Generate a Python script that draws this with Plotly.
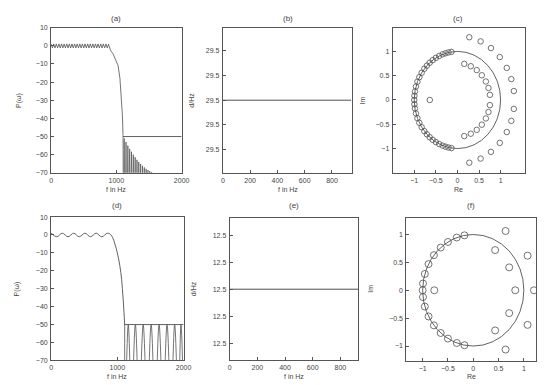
import numpy as np
import plotly.graph_objects as go

# ---------------- data ----------------
# (a) magnitude response, long filter
a_pb_f = [0, 20, 40, 60, 80, 100, 120, 140, 160, 180, 200, 220, 240, 260, 280, 300, 320, 340,
          360, 380, 400, 420, 440, 460, 480, 500, 520, 540, 560, 580, 600, 620, 640, 660, 680,
          700, 720, 740, 760, 780, 800, 820, 840, 860, 880,
          910, 950, 990, 1027, 1055, 1078, 1092, 1102]
a_pb_db = [1.0, -1.2, 1.0, -1.2, 1.0, -1.2, 1.0, -1.2, 1.0, -1.2, 1.0, -1.2, 1.0, -1.2, 1.0,
           -1.2, 1.0, -1.2, 1.0, -1.2, 1.0, -1.2, 1.0, -1.2, 1.0, -1.2, 1.0, -1.2, 1.0, -1.2,
           1.0, -1.2, 1.0, -1.2, 1.0, -1.2, 1.0, -1.2, 1.0, -1.2, 1.0, -1.2, 1.0, -1.2, 0.8,
           -2.5, -4.5, -7.5, -11, -18, -27.5, -38, -49]
a_sb_f = [1102, 1106, 1120, 1134, 1148, 1162, 1176, 1190, 1204, 1218, 1232, 1246, 1260, 1274,
          1288, 1302, 1316, 1330, 1344, 1358, 1372, 1386, 1400, 1414, 1428, 1442, 1456, 1470,
          1484, 1498, 1512, 1526, 1540, 1554, 1568, 1582, 1596, 2000]
a_sb_db = [-49, -95, -51, -95, -53, -95, -55, -95, -56.8, -95, -58.4, -95, -60, -95,
           -61.4, -95, -62.8, -95, -64, -95, -65.1, -95, -66.1, -95, -67, -95, -67.8, -95,
           -68.5, -95, -69.1, -95, -69.6, -95, -70.1, -95, -70.6, -100]
spec_f = [1100, 2000]
spec_db = [-50, -50]

# (d) magnitude response, short (equiripple) filter
d_pb_f = [0, 85, 170, 255, 340, 425, 510, 595, 680, 765, 850, 900, 930, 963, 1000, 1037,
          1065, 1086, 1100, 1111]
d_pb_db = [1.0, -1.0, 1.0, -1.0, 1.0, -1.0, 1.0, -1.0, 1.0, -1.0, 1.0, 0.2, -1.5, -5, -10,
           -17, -25, -35, -43, -50]
d_sb_f = [1111, 1118, 1165, 1215, 1272, 1330, 1390, 1450, 1510, 1570, 1630, 1690, 1750,
          1810, 1865, 1920, 1960, 2000]
d_sb_db = [-50, -95, -50, -95, -50, -95, -50, -95, -50, -95, -50, -95, -50, -95, -50, -95,
           -50, -95]

# (b), (e) group delay
gd_f = [0, 940]
gd_top = [29.5, 29.5]
gd_bot = [12.5, 12.5]

# (c) zeros, long filter (angles in degrees, radii)
c_circ_ang = [98, 102, 106, 110, 115, 120, 125, 130, 135, 140, 146, 152, 158, 164, 170, 175, 180,
              -175, -170, -164, -158, -152, -146, -140, -135, -130, -125, -120, -115, -110,
              -106, -102, -98]
c_ring_ang = [8, 19, 30, 42, 54, 66, 78, -8, -19, -30, -42, -54, -66, -78]
c_in_r = 0.76
c_out_r = 1.32
c_real_x = [-0.64, -1.56]

# (f) zeros, short filter
f_circ_ang = [100, 109, 120, 130, 141, 152, 163, 173, 180,
              -173, -163, -152, -141, -130, -120, -109, -100]
f_ring_ang = [59, 30, -30, -59]
f_in_r = [0.84, 0.82, 0.82, 0.84]
f_out_r = [1.24, 1.24, 1.24, 1.24]
f_real_x = [0.83, -0.77, 1.2]

# ---------------- figure ----------------
LC = '#505050'
FONT = dict(family='Liberation Sans, Arial, sans-serif', size=7, color='#444')
W, H = 544, 385

def px(x0, x1):
    return [x0 / W, min(x1 / W, 1.0)]

def py(top, bot):
    return [1 - bot / H, 1 - top / H]

dom = {
    1: (px(50, 183), py(24, 172)),
    2: (px(225, 357), py(24, 172)),
    3: (px(398, 533), py(24, 172)),
    4: (px(50, 185), py(217, 363)),
    5: (px(232, 363), py(218, 363)),
    6: (px(412, 544), py(218, 364)),
}

fig = go.Figure()

def ax(i):
    return ('x' if i == 1 else f'x{i}'), ('y' if i == 1 else f'y{i}')

def line(i, x, y, shape='linear', w=1.0):
    xa, ya = ax(i)
    fig.add_trace(go.Scatter(x=x, y=y, mode='lines', xaxis=xa, yaxis=ya,
                             line=dict(color=LC, width=w, shape=shape),
                             showlegend=False, hoverinfo='skip'))

def zeros(i, re, im, size=6):
    xa, ya = ax(i)
    fig.add_trace(go.Scatter(x=re, y=im, mode='markers', xaxis=xa, yaxis=ya,
                             marker=dict(symbol='circle-open', size=size,
                                         color=LC, line=dict(width=0.8, color=LC)),
                             showlegend=False, hoverinfo='skip'))

# (a)
line(1, a_pb_f, a_pb_db, w=0.8)
line(1, a_sb_f, a_sb_db, w=0.7)
line(1, spec_f, spec_db, w=0.9)
# (b)
line(2, gd_f, gd_top)
# (c)
ang = np.deg2rad(c_circ_ang)
zeros(3, np.cos(ang), np.sin(ang), size=5.5)
ang = np.deg2rad(c_ring_ang)
zeros(3, c_in_r * np.cos(ang), c_in_r * np.sin(ang), size=5.5)
zeros(3, c_out_r * np.cos(ang), c_out_r * np.sin(ang), size=5.5)
zeros(3, c_real_x, [0] * len(c_real_x), size=5.5)
# (d)
line(4, d_pb_f, d_pb_db, shape='spline', w=0.9)
line(4, d_sb_f, d_sb_db, shape='spline', w=0.8)
line(4, spec_f, spec_db, w=0.9)
# (e)
line(5, gd_f, gd_bot)
# (f)
ang = np.deg2rad(f_circ_ang)
zeros(6, np.cos(ang), np.sin(ang), size=7)
ang = np.deg2rad(f_ring_ang)
zeros(6, np.array(f_in_r) * np.cos(ang), np.array(f_in_r) * np.sin(ang), size=7)
zeros(6, np.array(f_out_r) * np.cos(ang), np.array(f_out_r) * np.sin(ang), size=7)
zeros(6, f_real_x, [0] * len(f_real_x), size=7)

common = dict(showline=True, linecolor='#555', linewidth=1, mirror=True, ticks='inside',
              ticklen=3, tickcolor='#555', showgrid=False, zeroline=False, tickfont=FONT,
              ticklabelstandoff=1, ticklabeloverflow='allow')

db_ticks = [10, 0, -10, -20, -30, -40, -50, -60, -70]
gd_off = [-2, -1, 0, 1, 2]
d = 0.001

axes = {
    1: (dict(range=[0, 2000], tickvals=[0, 1000, 2000]),
        dict(range=[-70, 10], tickvals=db_ticks)),
    2: (dict(range=[0, 950], tickvals=[0, 200, 400, 600, 800]),
        dict(range=[29.5 - 2.95 * d, 29.5 + 2.95 * d], tickvals=[29.5 + k * d for k in gd_off],
             ticktext=['29.5'] * 5)),
    3: (dict(range=[-1.5, 1.57], tickvals=[-1, -0.5, 0, 0.5, 1]),
        dict(range=[-1.5, 1.49], tickvals=[-1, -0.5, 0, 0.5, 1])),
    4: (dict(range=[0, 2000], tickvals=[0, 1000, 2000]),
        dict(range=[-70, 10], tickvals=db_ticks)),
    5: (dict(range=[0, 930], tickvals=[0, 200, 400, 600, 800]),
        dict(range=[12.5 - 2.63 * d, 12.5 + 2.63 * d], tickvals=[12.5 + k * d for k in gd_off],
             ticktext=['12.5'] * 5)),
    6: (dict(range=[-1.32, 1.24], tickvals=[-1, -0.5, 0, 0.5, 1]),
        dict(range=[-1.275, 1.295], tickvals=[-1, -0.5, 0, 0.5, 1])),
}

lay = {}
for i in range(1, 7):
    xd, yd = dom[i]
    xa, ya = axes[i]
    xn = 'xaxis' if i == 1 else f'xaxis{i}'
    yn = 'yaxis' if i == 1 else f'yaxis{i}'
    xid, yid = ax(i)
    xstyle = dict(common, domain=xd, anchor=yid, **xa)
    if i >= 4:
        xstyle['ticklabelstandoff'] = 0
    lay[xn] = xstyle
    lay[yn] = dict(common, domain=yd, anchor=xid, **ya)

fig.update_layout(**lay)

fig.add_shape(type='circle', xref='x3', yref='y3', x0=-1, y0=-1, x1=1, y1=1,
              line=dict(color=LC, width=0.9))
fig.add_shape(type='circle', xref='x6', yref='y6', x0=-1, y0=-1, x1=1, y1=1,
              line=dict(color=LC, width=0.9))

ann = []
def text(t, x, y, angle=0, size=7, yanchor='middle'):
    ann.append(dict(text=t, x=x / W, y=1 - y / H, xref='paper', yref='paper',
                    showarrow=False, textangle=angle, xanchor='center', yanchor=yanchor,
                    borderpad=0, font=dict(FONT, size=size)))

# titles
text('(a)', 116, 15, size=8)
text('(b)', 291, 15, size=8)
text('(c)', 465, 15, size=8)
text('(d)', 117, 205, size=8)
text('(e)', 297, 205, size=8)
text('(f)', 478, 205, size=8)
# x labels
text('f in Hz', 116, 189)
text('f in Hz', 291, 189)
text('Re', 465, 189)
text('f in Hz', 117, 384, yanchor='bottom')
text('f in Hz', 297, 384, yanchor='bottom')
text('Re', 478, 384, yanchor='bottom')
# y labels
text('P(ω)', 18, 98, -90)
text('d/Hz', 193, 98, -90)
text('Im', 367, 98, -90)
text('P(ω)', 15, 290, -90)
text('d/Hz', 195, 290, -90)
text('Im', 376, 290, -90)

fig.update_layout(annotations=ann, width=W, height=H,
                  margin=dict(l=0, r=0, t=0, b=0),
                  paper_bgcolor='white', plot_bgcolor='white', font=FONT)

fig.write_html('out.html', config={'displayModeBar': False},
               post_script="document.body.style.margin='0';document.body.style.overflow='hidden';")
